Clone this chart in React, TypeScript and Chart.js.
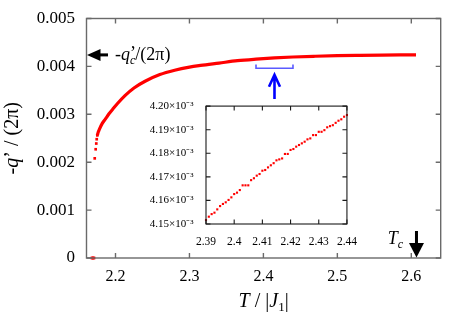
import { useEffect, useRef } from "react";
import { Chart, registerables } from "chart.js";

Chart.register(...registerables);

// ---------- data ----------
const X_TICKS = [2.2, 2.3, 2.4, 2.5, 2.6];
const X_LABELS = ["2.2", "2.3", "2.4", "2.5", "2.6"];
const Y_TICKS = [0, 0.001, 0.002, 0.003, 0.004, 0.005];
const Y_LABELS = ["0", "0.001", "0.002", "0.003", "0.004", "0.005"];

const ZERO_T = [2.168, 2.169, 2.17, 2.171];
const ZERO_V = [0, 0, 0, 0];

const EARLY_T = [2.1719, 2.1732, 2.174, 2.1746, 2.1754];
const EARLY_V = [0.00208, 0.00227, 0.00239, 0.00248, 0.00256];

const MAIN_T = [
  2.1754, 2.1767, 2.178, 2.1821, 2.1867, 2.1912, 2.1975, 2.2024, 2.2128, 2.225,
  2.24, 2.26, 2.28, 2.3, 2.315, 2.34, 2.365, 2.39, 2.415, 2.44, 2.47, 2.5, 2.53,
  2.56, 2.585, 2.6064,
];
const MAIN_V = [
  0.00256, 0.00263, 0.00268, 0.00281, 0.00291, 0.00301, 0.00313, 0.00322,
  0.00339, 0.00355, 0.00369, 0.00383, 0.00392, 0.003985, 0.00402, 0.00407,
  0.00412, 0.004152, 0.004177, 0.004196, 0.004212, 0.004225, 0.004232,
  0.004237, 0.004239, 0.00424,
];

const QC = 0.00424; // -q'_c/(2π)
const TC = 2.607;
const ZOOM_RANGE = [2.39, 2.44];
const BRACKET_V = [0.00404, 0.00396];
const BLUE_ARROW_T = 2.415;
const BLUE_ARROW_V = [0.00332, 0.003835];

const INSET_X_TICKS = [2.39, 2.4, 2.41, 2.42, 2.43, 2.44];
const INSET_X_LABELS = ["2.39", "2.4", "2.41", "2.42", "2.43", "2.44"];
const INSET_Y_TICKS = [4.15, 4.16, 4.17, 4.18, 4.19, 4.2];
const INSET_Y_LABELS = [
  "4.15×10⁻³", "4.16×10⁻³", "4.17×10⁻³", "4.18×10⁻³", "4.19×10⁻³", "4.20×10⁻³",
];

const INSET_T = [
  2.39, 2.391, 2.392, 2.393, 2.394, 2.395, 2.396, 2.397, 2.398, 2.399,
  2.4, 2.401, 2.402, 2.403, 2.404, 2.405, 2.406, 2.407, 2.408, 2.409,
  2.41, 2.411, 2.412, 2.413, 2.414, 2.415, 2.416, 2.417, 2.418, 2.419,
  2.42, 2.421, 2.422, 2.423, 2.424, 2.425, 2.426, 2.427, 2.428, 2.429,
  2.43, 2.431, 2.432, 2.433, 2.434, 2.435, 2.436, 2.437, 2.438, 2.439, 2.44,
];
// values in units of 1e-3
const INSET_V = [
  4.1517, 4.1531, 4.1542, 4.1548, 4.1562, 4.1576, 4.1585, 4.1592, 4.1602, 4.1613,
  4.1627, 4.1633, 4.1644, 4.1664, 4.1664, 4.1664, 4.1686, 4.1694, 4.1705, 4.1712,
  4.1726, 4.1729, 4.174, 4.1749, 4.1758, 4.177, 4.1774, 4.1778, 4.1797, 4.1797,
  4.1814, 4.1818, 4.1828, 4.1835, 4.1842, 4.1849, 4.1859, 4.1863, 4.1877, 4.1877,
  4.1891, 4.1891, 4.1898, 4.191, 4.1915, 4.1919, 4.1929, 4.1938, 4.1944, 4.1955,
  4.1962,
];

// ---------- style ----------
const SERIF = "Liberation Serif, Times New Roman, serif";
const RED = "#ff0000";
const FRAME = "#6a6a6a";

Chart.defaults.font.family = SERIF;

type Seg = { t: string; font: string; dy?: number; noAdvance?: boolean };

function drawRich(ctx: CanvasRenderingContext2D, segs: Seg[], x: number, y: number, align: "left" | "center" | "right") {
  let w = 0;
  for (const s of segs) {
    ctx.font = s.font;
    if (!s.noAdvance) w += ctx.measureText(s.t).width;
  }
  let cx = align === "center" ? x - w / 2 : align === "right" ? x - w : x;
  ctx.textAlign = "left";
  ctx.textBaseline = "alphabetic";
  for (const s of segs) {
    ctx.font = s.font;
    ctx.fillText(s.t, cx, y + (s.dy || 0));
    if (!s.noAdvance) cx += ctx.measureText(s.t).width;
  }
}

const f = (size: number, italic = false) => `${italic ? "italic " : ""}${size}px ${SERIF}`;

const mainDecor = {
  id: "mainDecor",
  afterDraw(chart: any) {
    const ctx: CanvasRenderingContext2D = chart.ctx;
    const { left, right, top, bottom } = chart.chartArea;
    const xs = chart.scales.x;
    const ys = chart.scales.y;
    ctx.save();
    // frame + inward ticks
    ctx.strokeStyle = FRAME;
    ctx.lineWidth = 1.4;
    ctx.strokeRect(left, top, right - left, bottom - top);
    ctx.beginPath();
    for (const v of X_TICKS) {
      const px = xs.getPixelForValue(v);
      ctx.moveTo(px, bottom); ctx.lineTo(px, bottom - 5);
      ctx.moveTo(px, top); ctx.lineTo(px, top + 5);
    }
    for (const v of Y_TICKS) {
      const py = ys.getPixelForValue(v);
      ctx.moveTo(left, py); ctx.lineTo(left + 5, py);
      ctx.moveTo(right, py); ctx.lineTo(right - 5, py);
    }
    ctx.stroke();

    ctx.fillStyle = "#000";
    // x title
    drawRich(ctx, [
      { t: "T", font: f(20, true) },
      { t: " / |", font: f(20) },
      { t: "J", font: f(20, true) },
      { t: "1", font: f(13), dy: 4 },
      { t: "|", font: f(20) },
    ], (left + right) / 2, 306.5, "center");

    // y title (rotated)
    ctx.save();
    ctx.translate(18, (top + bottom) / 2);
    ctx.rotate(-Math.PI / 2);
    drawRich(ctx, [
      { t: "-", font: f(20) },
      { t: "q", font: f(20, true) },
      { t: "’ / (2π)", font: f(20) },
    ], 0, 0, "center");
    ctx.restore();

    // left arrow for -q'_c/(2π)
    const yq = ys.getPixelForValue(QC);
    ctx.beginPath();
    ctx.moveTo(left + 0.5, yq);
    ctx.lineTo(left + 14, yq - 6);
    ctx.lineTo(left + 14, yq + 6);
    ctx.closePath();
    ctx.fill();
    ctx.fillRect(left + 13, yq - 1.5, 8.5, 3);
    drawRich(ctx, [
      { t: "-", font: f(18) },
      { t: "q", font: f(18, true) },
      { t: "’", font: f(18), dy: -1, noAdvance: true },
      { t: "c", font: f(12, true), dy: 4 },
      { t: "/(2π)", font: f(18) },
    ], left + 28.5, yq + 5.5, "left");

    // Tc arrow
    const xt = xs.getPixelForValue(TC);
    ctx.beginPath();
    ctx.moveTo(xt, bottom - 0.5);
    ctx.lineTo(xt - 7.5, bottom - 15);
    ctx.lineTo(xt + 7.5, bottom - 15);
    ctx.closePath();
    ctx.fill();
    ctx.fillRect(xt - 1.5, bottom - 27, 3, 13);
    drawRich(ctx, [
      { t: "T", font: f(18, true) },
      { t: "c", font: f(12, true), dy: 4 },
    ], xt - 13.5, bottom - 14, "right");

    // blue bracket marking the zoomed range
    const x1 = xs.getPixelForValue(ZOOM_RANGE[0]);
    const x2 = xs.getPixelForValue(ZOOM_RANGE[1]);
    const yb1 = ys.getPixelForValue(BRACKET_V[0]);
    const yb2 = ys.getPixelForValue(BRACKET_V[1]);
    ctx.strokeStyle = "#5a5aff";
    ctx.lineWidth = 1.6;
    ctx.beginPath();
    ctx.moveTo(x1, yb1); ctx.lineTo(x1, yb2); ctx.lineTo(x2, yb2); ctx.lineTo(x2, yb1);
    ctx.stroke();

    // blue arrow
    const xa = xs.getPixelForValue(BLUE_ARROW_T);
    const ya0 = ys.getPixelForValue(BLUE_ARROW_V[0]);
    const ya1 = ys.getPixelForValue(BLUE_ARROW_V[1]);
    ctx.strokeStyle = "#0000ff";
    ctx.lineWidth = 2.6;
    ctx.beginPath();
    ctx.moveTo(xa, ya0); ctx.lineTo(xa, ya1 + 1);
    ctx.moveTo(xa - 5.5, ya1 + 12.5); ctx.lineTo(xa, ya1 + 0.5); ctx.lineTo(xa + 5.5, ya1 + 12.5);
    ctx.stroke();
    ctx.restore();
  },
};

const insetDecor = {
  id: "insetDecor",
  afterDraw(chart: any) {
    const ctx: CanvasRenderingContext2D = chart.ctx;
    const { left, right, top, bottom } = chart.chartArea;
    const xs = chart.scales.x;
    const ys = chart.scales.y;
    ctx.save();
    ctx.strokeStyle = "#1a1a1a";
    ctx.lineWidth = 1.1;
    ctx.strokeRect(left, top, right - left, bottom - top);
    ctx.beginPath();
    for (const v of INSET_X_TICKS) {
      const px = xs.getPixelForValue(v);
      ctx.moveTo(px, bottom); ctx.lineTo(px, bottom - 4.5);
      ctx.moveTo(px, top); ctx.lineTo(px, top + 4.5);
    }
    for (const v of INSET_Y_TICKS) {
      const py = ys.getPixelForValue(v);
      ctx.moveTo(left, py); ctx.lineTo(left + 4.5, py);
      ctx.moveTo(right, py); ctx.lineTo(right - 4.5, py);
    }
    ctx.stroke();
    ctx.restore();
  },
};

const pts = (xs: number[], ys: number[]) => xs.map((x, i) => ({ x, y: ys[i] }));

export default function App() {
  const mainRef = useRef<HTMLCanvasElement>(null);
  const insetRef = useRef<HTMLCanvasElement>(null);

  useEffect(() => {
    document.body.style.margin = "0";
    const dotStyle = {
      showLine: false,
      pointStyle: "rect" as const,
      pointBackgroundColor: RED,
      pointBorderColor: RED,
      pointBorderWidth: 0,
      clip: false as const,
    };
    const main = new Chart(mainRef.current!, {
      type: "scatter",
      data: {
        datasets: [
          { data: pts(ZERO_T, ZERO_V), ...dotStyle, pointRadius: 1.9 },
          { data: pts(EARLY_T, EARLY_V), ...dotStyle, pointRadius: 1.9 },
          {
            data: pts(MAIN_T, MAIN_V),
            showLine: true,
            borderColor: RED,
            borderWidth: 3.2,
            pointRadius: 0,
            cubicInterpolationMode: "monotone",
            fill: false,
          } as any,
        ],
      },
      options: {
        responsive: false,
        animation: false,
        devicePixelRatio: 1,
        layout: { padding: { left: 0, top: 18.5, right: 28.3, bottom: 0 } },
        plugins: { legend: { display: false }, tooltip: { enabled: false } },
        events: [],
        scales: {
          x: {
            type: "linear",
            min: 2.16078,
            max: 2.63976,
            grid: { display: false },
            border: { display: false },
            afterBuildTicks: (s: any) => { s.ticks = X_TICKS.map((v) => ({ value: v })); },
            afterFit: (s: any) => { s.height = 70; },
            ticks: {
              padding: 1,
              color: "#000",
              maxRotation: 0,
              autoSkip: false,
              font: { family: SERIF, size: 16 },
              callback: (_v: any, i: number) => X_LABELS[i],
            },
          },
          y: {
            type: "linear",
            min: 0,
            max: 0.005,
            grid: { display: false },
            border: { display: false },
            afterBuildTicks: (s: any) => { s.ticks = Y_TICKS.map((v) => ({ value: v })); },
            afterFit: (s: any) => { s.width = 86.5; },
            ticks: {
              padding: 3.5,
              color: "#000",
              autoSkip: false,
              font: { family: SERIF, size: 17 },
              callback: (_v: any, i: number) => Y_LABELS[i],
            },
          },
        },
      },
      plugins: [mainDecor],
    });

    const inset = new Chart(insetRef.current!, {
      type: "scatter",
      data: {
        datasets: [{ data: pts(INSET_T, INSET_V), ...dotStyle, pointRadius: 1.5 }],
      },
      options: {
        responsive: false,
        animation: false,
        devicePixelRatio: 1,
        layout: { padding: { left: 0, top: 10.7, right: 11, bottom: 0 } },
        plugins: { legend: { display: false }, tooltip: { enabled: false } },
        events: [],
        scales: {
          x: {
            type: "linear",
            min: 2.39,
            max: 2.44,
            grid: { display: false },
            border: { display: false },
            afterBuildTicks: (s: any) => { s.ticks = INSET_X_TICKS.map((v) => ({ value: v })); },
            afterFit: (s: any) => { s.height = 31; },
            ticks: {
              padding: 3,
              color: "#000",
              maxRotation: 0,
              autoSkip: false,
              font: { family: SERIF, size: 11.5 },
              callback: (_v: any, i: number) => INSET_X_LABELS[i],
            },
          },
          y: {
            type: "linear",
            min: 4.15,
            max: 4.2,
            grid: { display: false },
            border: { display: false },
            afterBuildTicks: (s: any) => { s.ticks = INSET_Y_TICKS.map((v) => ({ value: v })); },
            afterFit: (s: any) => { s.width = 66; },
            ticks: {
              padding: 4.5,
              color: "#000",
              autoSkip: false,
              font: { family: SERIF, size: 11 },
              callback: (_v: any, i: number) => INSET_Y_LABELS[i],
            },
          },
        },
      },
      plugins: [insetDecor],
    });

    return () => {
      main.destroy();
      inset.destroy();
    };
  }, []);

  return (
    <div style={{ position: "relative", width: 469, height: 328, background: "#fff" }}>
      <canvas ref={mainRef} width={469} height={328} style={{ position: "absolute", left: 0, top: 0 }} />
      <canvas ref={insetRef} width={220} height={160} style={{ position: "absolute", left: 140, top: 95 }} />
    </div>
  );
}
